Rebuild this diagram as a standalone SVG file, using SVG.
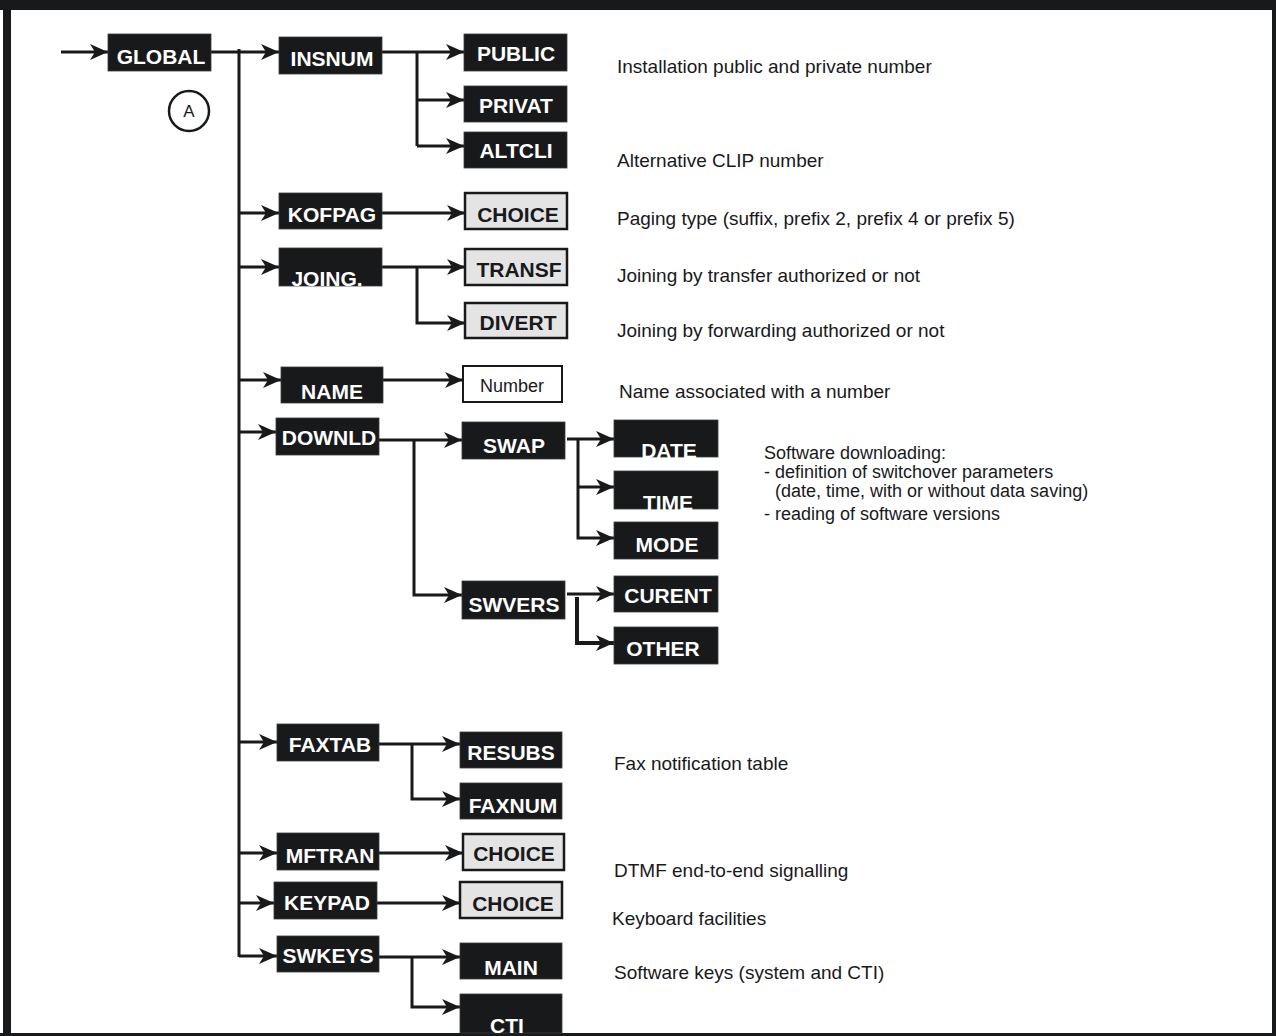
<svg xmlns="http://www.w3.org/2000/svg" width="1276" height="1036" viewBox="0 0 1276 1036">
<style>
.nb{fill:#18191b;stroke:#3a3a3a;stroke-width:0.8}
.gb{fill:#e4e4e4;stroke:#18191b;stroke-width:2.5}
.wb{fill:#ffffff;stroke:#18191b;stroke-width:2}
.nt{font-family:"Liberation Sans",Arial,sans-serif;font-weight:bold;font-size:21px;fill:#ffffff;text-anchor:middle}
.gt{font-family:"Liberation Sans",Arial,sans-serif;font-weight:bold;font-size:21px;fill:#18191b;text-anchor:middle}
.wt{font-family:"Liberation Sans",Arial,sans-serif;font-size:18px;fill:#18191b;text-anchor:middle}
.d{font-family:"Liberation Sans",Arial,sans-serif;font-size:19px;fill:#18191b}
.ds{font-family:"Liberation Sans",Arial,sans-serif;font-size:18px;fill:#18191b}
.c{fill:none;stroke:#18191b;stroke-width:3}
.a{marker-end:url(#arr)}
</style>
<defs>
<marker id="arr" markerUnits="userSpaceOnUse" markerWidth="20" markerHeight="18" refX="18" refY="8" orient="auto" overflow="visible">
<path d="M0,0 L18,8 L0,16 L5,8 z" fill="#18191b"/>
</marker>
</defs>
<rect width="1276" height="1036" fill="#ffffff"/>
<g id="frame" fill="#18191b">
<rect x="0" y="0" width="1276" height="10"/>
<rect x="3" y="0" width="8" height="1036"/>
<rect x="1272" y="0" width="4" height="1036"/>
<rect x="0" y="1033" width="1276" height="3"/>
</g>
<g id="connectors">
<path class="c a" d="M61,52 H108"/>
<path class="c a" d="M211,52 H279"/>
<path class="c" d="M239,49 V957"/>
<path class="c a" d="M239,213 H279"/>
<path class="c a" d="M239,267 H279"/>
<path class="c a" d="M239,380 H281"/>
<path class="c a" d="M239,432 H276"/>
<path class="c a" d="M239,742 H277"/>
<path class="c a" d="M239,853 H277"/>
<path class="c a" d="M239,903 H274"/>
<path class="c a" d="M239,956 H277"/>
<path class="c a" d="M382,52 H464"/>
<path class="c" d="M417,52 V146"/>
<path class="c a" d="M417,100 H464"/>
<path class="c a" d="M417,146 H464"/>
<path class="c a" d="M382,213 H465"/>
<path class="c a" d="M382,267 H465"/>
<path class="c a" d="M417,267 V323 H465"/>
<path class="c a" d="M383,380 H463"/>
<path class="c a" d="M379,440 H462"/>
<path class="c a" d="M414,440 V595 H462"/>
<path class="c a" d="M567,439 H614"/>
<path class="c a" d="M578,439 V538 H614"/>
<path class="c a" d="M578,487 H614"/>
<path class="c a" d="M567,594 H614"/>
<path class="c a" d="M577,597 V643 H614" style="stroke-width:4"/>
<path class="c a" d="M379,744 H460"/>
<path class="c a" d="M412,744 V799 H460"/>
<path class="c a" d="M379,853 H463"/>
<path class="c a" d="M377,903 H460"/>
<path class="c a" d="M379,957 H460"/>
<path class="c a" d="M412,957 V1007 H460"/>
</g>
<g id="GLOBAL"><rect class="nb" x="108" y="34" width="103" height="37"/><text class="nt" x="161" y="64">GLOBAL</text></g>
<g id="A"><circle cx="189" cy="111" r="20" fill="#ffffff" stroke="#18191b" stroke-width="2.5"/><text x="189" y="117" font-family="Liberation Sans, Arial, sans-serif" font-size="17" fill="#18191b" text-anchor="middle">A</text></g>
<g id="INSNUM"><rect class="nb" x="279" y="37" width="103" height="37"/><text class="nt" x="332" y="66">INSNUM</text></g>
<g id="PUBLIC"><rect class="nb" x="464" y="34" width="103" height="37"/><text class="nt" x="516" y="61">PUBLIC</text></g>
<g id="PRIVAT"><rect class="nb" x="464" y="86" width="103" height="36"/><text class="nt" x="516" y="113">PRIVAT</text></g>
<g id="ALTCLI"><rect class="nb" x="464" y="132" width="103" height="36"/><text class="nt" x="516" y="158">ALTCLI</text></g>
<g id="KOFPAG"><rect class="nb" x="279" y="193" width="103" height="36"/><text class="nt" x="332" y="222">KOFPAG</text></g>
<g id="CHOICE1"><rect class="gb" x="465" y="193" width="102" height="36"/><text class="gt" x="518" y="222">CHOICE</text></g>
<g id="JOING"><rect class="nb" x="279" y="248" width="103" height="38"/><text class="nt" x="327" y="286">JOING.</text></g>
<g id="TRANSF"><rect class="gb" x="465" y="249" width="102" height="36"/><text class="gt" x="519" y="277">TRANSF</text></g>
<g id="DIVERT"><rect class="gb" x="465" y="303" width="102" height="35"/><text class="gt" x="518" y="330">DIVERT</text></g>
<g id="NAME"><rect class="nb" x="281" y="367" width="102" height="36"/><text class="nt" x="332" y="399">NAME</text></g>
<g id="Number"><rect class="wb" x="463" y="366" width="99" height="36"/><text class="wt" x="512" y="392">Number</text></g>
<g id="DOWNLD"><rect class="nb" x="276" y="418" width="103" height="37"/><text class="nt" x="329" y="445">DOWNLD</text></g>
<g id="SWAP"><rect class="nb" x="462" y="422" width="103" height="37"/><text class="nt" x="514" y="453">SWAP</text></g>
<g id="SWVERS"><rect class="nb" x="462" y="581" width="103" height="38"/><text class="nt" x="514" y="612">SWVERS</text></g>
<g id="DATE"><rect class="nb" x="614" y="420" width="104" height="37"/><text class="nt" x="669" y="458">DATE</text></g>
<g id="TIME"><rect class="nb" x="614" y="471" width="104" height="38"/><text class="nt" x="668" y="510">TIME</text></g>
<g id="MODE"><rect class="nb" x="614" y="522" width="104" height="37"/><text class="nt" x="667" y="552">MODE</text></g>
<g id="CURENT"><rect class="nb" x="614" y="576" width="104" height="36"/><text class="nt" x="668" y="603">CURENT</text></g>
<g id="OTHER"><rect class="nb" x="614" y="627" width="104" height="37"/><text class="nt" x="663" y="656">OTHER</text></g>
<g id="FAXTAB"><rect class="nb" x="277" y="724" width="102" height="37"/><text class="nt" x="330" y="752">FAXTAB</text></g>
<g id="RESUBS"><rect class="nb" x="460" y="732" width="102" height="36"/><text class="nt" x="511" y="760">RESUBS</text></g>
<g id="FAXNUM"><rect class="nb" x="460" y="783" width="102" height="36"/><text class="nt" x="513" y="813">FAXNUM</text></g>
<g id="MFTRAN"><rect class="nb" x="277" y="833" width="102" height="37"/><text class="nt" x="330" y="863">MFTRAN</text></g>
<g id="CHOICE2"><rect class="gb" x="463" y="834" width="101" height="36"/><text class="gt" x="514" y="861">CHOICE</text></g>
<g id="KEYPAD"><rect class="nb" x="274" y="882" width="103" height="37"/><text class="nt" x="327" y="910">KEYPAD</text></g>
<g id="CHOICE3"><rect class="gb" x="460" y="882" width="102" height="36"/><text class="gt" x="513" y="911">CHOICE</text></g>
<g id="SWKEYS"><rect class="nb" x="277" y="936" width="102" height="36"/><text class="nt" x="328" y="963">SWKEYS</text></g>
<g id="MAIN"><rect class="nb" x="460" y="943" width="102" height="36"/><text class="nt" x="511" y="975">MAIN</text></g>
<g id="CTI"><rect class="nb" x="460" y="994" width="102" height="39"/><text class="nt" x="507" y="1033">CTI</text></g>
<g id="descriptions">
<text class="d" x="617" y="73">Installation public and private number</text>
<text class="d" x="617" y="167">Alternative CLIP number</text>
<text class="d" x="617" y="225">Paging type (suffix, prefix 2, prefix 4 or prefix 5)</text>
<text class="d" x="617" y="282">Joining by transfer authorized or not</text>
<text class="d" x="617" y="337">Joining by forwarding authorized or not</text>
<text class="d" x="619" y="398">Name associated with a number</text>
<text class="ds" x="764" y="459">Software downloading:</text>
<text class="ds" x="764" y="478">- definition of switchover parameters</text>
<text class="ds" x="775" y="497">(date, time, with or without data saving)</text>
<text class="ds" x="764" y="520">- reading of software versions</text>
<text class="d" x="614" y="770">Fax notification table</text>
<text class="d" x="614" y="877">DTMF end-to-end signalling</text>
<text class="d" x="612" y="925">Keyboard facilities</text>
<text class="d" x="614" y="979">Software keys (system and CTI)</text>
</g>
</svg>
